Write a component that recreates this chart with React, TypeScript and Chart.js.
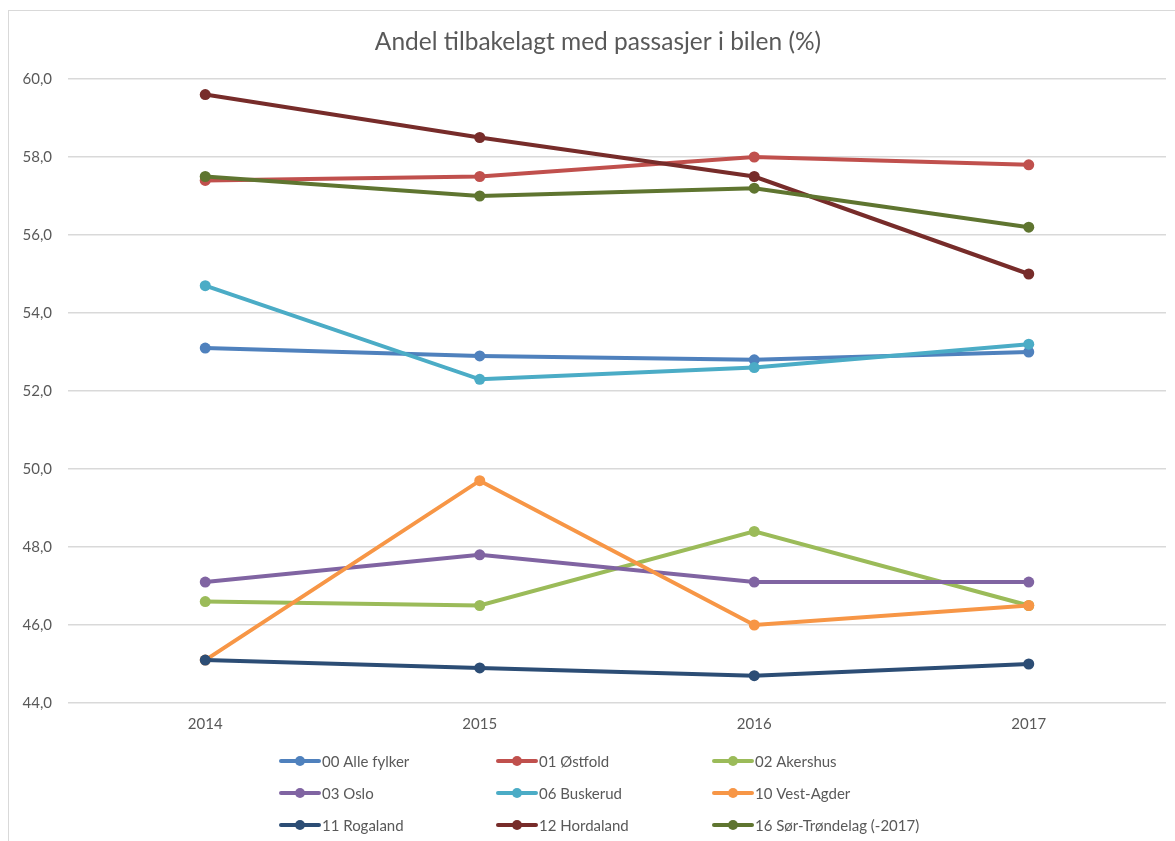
import React, { useEffect, useRef } from "react";
import { Chart, registerables } from "chart.js";

Chart.register(...registerables);

const TITLE = "Andel tilbakelagt med passasjer i bilen (%)";
const YEARS = ["2014", "2015", "2016", "2017"];

const SERIES_NAMES = [
  "00 Alle fylker",
  "01 Østfold",
  "02 Akershus",
  "03 Oslo",
  "06 Buskerud",
  "10 Vest-Agder",
  "11 Rogaland",
  "12 Hordaland",
  "16 Sør-Trøndelag (-2017)",
];

const SERIES_COLORS = [
  "#4F81BD",
  "#C0504D",
  "#9BBB59",
  "#8064A2",
  "#4BACC6",
  "#F79646",
  "#2C4D75",
  "#772C2A",
  "#5F7530",
];

const alleFylker = [53.1, 52.9, 52.8, 53.0];
const ostfold = [57.4, 57.5, 58.0, 57.8];
const akershus = [46.6, 46.5, 48.4, 46.5];
const oslo = [47.1, 47.8, 47.1, 47.1];
const buskerud = [54.7, 52.3, 52.6, 53.2];
const vestAgder = [45.1, 49.7, 46.0, 46.5];
const rogaland = [45.1, 44.9, 44.7, 45.0];
const hordaland = [59.6, 58.5, 57.5, 55.0];
const sorTrondelag = [57.5, 57.0, 57.2, 56.2];

const SERIES_VALUES = [
  alleFylker,
  ostfold,
  akershus,
  oslo,
  buskerud,
  vestAgder,
  rogaland,
  hordaland,
  sorTrondelag,
];

const Y_MIN = 44;
const Y_MAX = 60;
const Y_STEP = 2;

const FONT = "Lato, 'Open Sans', sans-serif";
const TEXT_COLOR = "#595959";

const overlayPlugin = {
  id: "overlay",
  afterDraw(chart: any) {
    const ctx = chart.ctx;
    ctx.save();
    // Title
    ctx.fillStyle = TEXT_COLOR;
    ctx.font = `24.5px ${FONT}`;
    ctx.textAlign = "center";
    ctx.textBaseline = "middle";
    ctx.fillText(TITLE, 598, 42);

    // Legend (3 columns x 3 rows)
    const colX = [281, 498, 714];
    const rowY = [761, 793, 825];
    ctx.font = `15px ${FONT}`;
    ctx.textAlign = "left";
    SERIES_NAMES.forEach((name, i) => {
      const x = colX[i % 3];
      const y = rowY[Math.floor(i / 3)];
      const c = SERIES_COLORS[i];
      ctx.strokeStyle = c;
      ctx.lineWidth = 4;
      ctx.lineCap = "round";
      ctx.beginPath();
      ctx.moveTo(x, y);
      ctx.lineTo(x + 38, y);
      ctx.stroke();
      ctx.fillStyle = c;
      ctx.beginPath();
      ctx.arc(x + 19, y, 5, 0, Math.PI * 2);
      ctx.fill();
      ctx.fillStyle = TEXT_COLOR;
      ctx.fillText(name, x + 41, y + 1);
    });
    ctx.restore();
  },
};

export default function App() {
  const ref = useRef<HTMLCanvasElement | null>(null);

  useEffect(() => {
    if (!ref.current) return;
    const n = SERIES_NAMES.length;
    const chart = new Chart(ref.current, {
      type: "line",
      data: {
        labels: YEARS,
        datasets: SERIES_NAMES.map((name, i) => ({
          label: name,
          data: SERIES_VALUES[i],
          borderColor: SERIES_COLORS[i],
          backgroundColor: SERIES_COLORS[i],
          pointBackgroundColor: SERIES_COLORS[i],
          pointBorderColor: SERIES_COLORS[i],
          borderWidth: 4,
          pointRadius: 5.5,
          pointBorderWidth: 0,
          tension: 0,
          fill: false,
          order: n - i,
        })),
      },
      options: {
        animation: false,
        responsive: false,
        maintainAspectRatio: false,
        events: [],
        layout: { padding: { top: 79, right: 9, left: 0, bottom: 0 } },
        plugins: {
          legend: { display: false },
          title: { display: false },
          tooltip: { enabled: false },
        },
        scales: {
          x: {
            type: "category",
            offset: true,
            grid: { display: false, drawTicks: false },
            border: { display: false },
            ticks: {
              color: TEXT_COLOR,
              font: { family: FONT, size: 15 },
              padding: 12,
            },
            afterFit: (s: any) => {
              s.height = 138;
            },
          },
          y: {
            min: Y_MIN,
            max: Y_MAX,
            grid: { color: "#d9d9d9", lineWidth: 1.5, drawTicks: false },
            border: { display: false },
            ticks: {
              stepSize: Y_STEP,
              color: TEXT_COLOR,
              font: { family: FONT, size: 15 },
              padding: 16,
              callback: (v: any) => Number(v).toFixed(1).replace(".", ","),
            },
            afterFit: (s: any) => {
              s.width = 68;
            },
          },
        },
      },
      plugins: [overlayPlugin],
    });
    return () => chart.destroy();
  }, []);

  return (
    <div
      style={{
        position: "fixed",
        left: 0,
        top: 0,
        width: 1175,
        height: 841,
        overflow: "hidden",
        background: "#fff",
      }}
    >
      <div
        style={{
          position: "absolute",
          left: 8,
          top: 10,
          width: 1190,
          height: 900,
          border: "1px solid #d9d9d9",
          boxSizing: "border-box",
        }}
      />
      <canvas
        ref={ref}
        width={1175}
        height={841}
        style={{ position: "absolute", left: 0, top: 0, width: 1175, height: 841 }}
      />
    </div>
  );
}
